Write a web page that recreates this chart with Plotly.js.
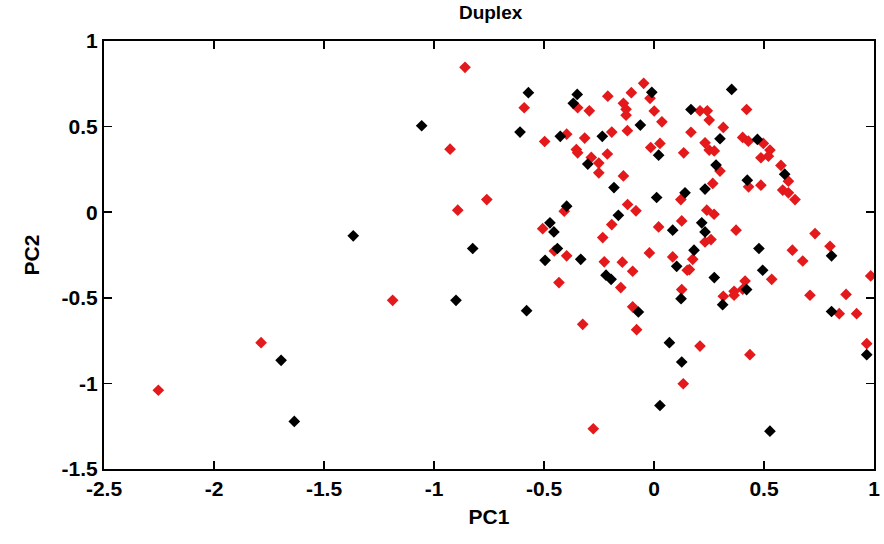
<!DOCTYPE html>
<html>
<head>
<meta charset="utf-8">
<script src="https://cdn.plot.ly/plotly-3.0.1.min.js"></script>
<style>html,body{margin:0;padding:0;background:#fff;}#chart{width:884px;height:544px;}</style>
</head>
<body>
<div id="chart"></div>
<script>
const blackPts = [[-0.571,0.698],[-0.349,0.688],[-0.367,0.636],[-0.01,0.70],[-0.062,0.509],[-0.609,0.468],[-0.426,0.443],[-0.235,0.443],[-0.301,0.281],[-0.182,0.144],[0.168,0.60],[0.021,0.333],[0.353,0.717],[0.30,0.429],[0.47,0.425],[0.282,0.275],[0.594,0.222],[0.424,0.187],[0.232,0.135],[0.141,0.113],[0.217,-0.062],[0.232,-0.115],[0.182,-0.222],[0.477,-0.212],[0.807,-0.255],[0.494,-0.339],[0.274,-0.382],[0.123,-0.505],[0.421,-0.452],[0.312,-0.54],[0.807,-0.58],[0.967,-0.832],[0.126,-0.875],[0.527,-1.279],[-0.579,-0.575],[-0.071,-0.583],[0.07,-0.762],[0.027,-1.129],[0.012,0.086],[-0.397,0.035],[-0.162,-0.018],[-0.473,-0.062],[-0.455,-0.115],[0.085,-0.105],[-0.439,-0.212],[-0.495,-0.281],[-0.333,-0.275],[0.103,-0.316],[-0.218,-0.368],[-0.195,-0.392],[-1.056,0.505],[-1.367,-0.138],[-0.824,-0.212],[-0.9,-0.515],[-1.695,-0.865],[-1.635,-1.222]];
const redPts = [[-0.59,0.61],[-0.347,0.61],[-0.294,0.592],[-0.21,0.678],[-0.103,0.698],[-0.047,0.753],[-0.018,0.665],[-0.139,0.636],[-0.127,0.601],[-0.127,0.567],[0.001,0.591],[0.036,0.528],[-0.497,0.413],[-0.397,0.456],[-0.315,0.433],[-0.192,0.468],[-0.121,0.476],[-0.353,0.366],[-0.347,0.347],[-0.212,0.34],[-0.285,0.32],[-0.251,0.287],[-0.251,0.23],[-0.139,0.212],[-0.015,0.378],[0.027,0.402],[0.135,0.347],[0.209,0.592],[0.242,0.592],[0.251,0.538],[0.421,0.60],[0.315,0.495],[0.168,0.467],[0.403,0.437],[0.429,0.415],[0.497,0.402],[0.232,0.405],[0.251,0.363],[0.274,0.358],[0.527,0.363],[0.486,0.318],[0.52,0.327],[0.30,0.24],[0.577,0.273],[0.611,0.181],[0.43,0.148],[0.486,0.158],[0.267,0.168],[0.585,0.129],[0.611,0.113],[0.641,0.074],[0.122,0.074],[0.24,0.012],[0.273,-0.012],[0.126,-0.051],[0.373,-0.105],[0.232,-0.174],[0.259,-0.16],[0.732,-0.125],[0.176,-0.275],[0.629,-0.222],[0.80,-0.199],[0.676,-0.285],[0.161,-0.335],[0.414,-0.402],[0.535,-0.392],[0.985,-0.372],[0.126,-0.452],[0.364,-0.462],[0.364,-0.485],[0.403,-0.45],[0.315,-0.491],[0.709,-0.485],[0.873,-0.48],[0.842,-0.593],[0.921,-0.593],[0.967,-0.768],[0.209,-0.782],[0.436,-0.832],[0.133,-1.002],[-0.324,-0.655],[-0.097,-0.553],[-0.079,-0.686],[-0.276,-1.265],[-0.408,0.006],[-0.12,0.045],[-0.082,0.008],[-0.192,-0.072],[-0.506,-0.096],[0.021,-0.086],[-0.233,-0.148],[-0.453,-0.226],[-0.397,-0.255],[-0.021,-0.238],[-0.226,-0.29],[-0.144,-0.292],[0.085,-0.261],[0.151,-0.339],[-0.097,-0.345],[-0.432,-0.411],[-0.151,-0.44],[-0.859,0.846],[-0.927,0.368],[-0.892,0.012],[-0.76,0.074],[-1.188,-0.515],[-1.786,-0.762],[-2.253,-1.04]];
const xTickVals = [-2.5,-2,-1.5,-1,-0.5,0,0.5,1];
const xTickText = ['-2.5','-2','-1.5','-1','-0.5','0','0.5','1'];
const yTickVals = [-1.5,-1,-0.5,0,0.5,1];
const yTickText = ['-1.5','-1','-0.5','0','0.5','1'];

const font = "'Liberation Sans Narrow','Liberation Sans',Arial,sans-serif";
const traces = [
  {x: redPts.map(p=>p[0]), y: redPts.map(p=>p[1]), type:'scatter', mode:'markers',
   marker:{symbol:'diamond', size:9, color:'#e3191b'}},
  {x: blackPts.map(p=>p[0]), y: blackPts.map(p=>p[1]), type:'scatter', mode:'markers',
   marker:{symbol:'diamond', size:9, color:'#000000'}}
];
const axisCommon = {showgrid:false, zeroline:false, showline:true, linewidth:2, linecolor:'#000',
  mirror:'ticks', ticks:'inside', ticklen:8, tickwidth:1.5, tickcolor:'#000',
  tickfont:{family:font, size:21, color:'#000', weight:'bold'}};
const layout = {
  width:884, height:544,
  margin:{l:104, r:10, t:41, b:75},
  paper_bgcolor:'#fff', plot_bgcolor:'#fff',
  showlegend:false,
  title:{text:'<b>Duplex</b>', font:{family:font, size:19, color:'#000'}, x:0.555, xanchor:'center', y:0.99, yanchor:'top'},
  xaxis: Object.assign({}, axisCommon, {range:[-2.5,1], tickvals:xTickVals, ticktext:xTickText,
    title:{text:'<b>PC1</b>', font:{family:font, size:21, color:'#000'}, standoff:10}}),
  yaxis: Object.assign({}, axisCommon, {range:[-1.5,1], tickvals:yTickVals, ticktext:yTickText,
    title:{text:'<b>PC2</b>', font:{family:font, size:21, color:'#000'}, standoff:16}})
};
Plotly.newPlot('chart', traces, layout, {displayModeBar:false, staticPlot:true});
</script>
</body>
</html>
